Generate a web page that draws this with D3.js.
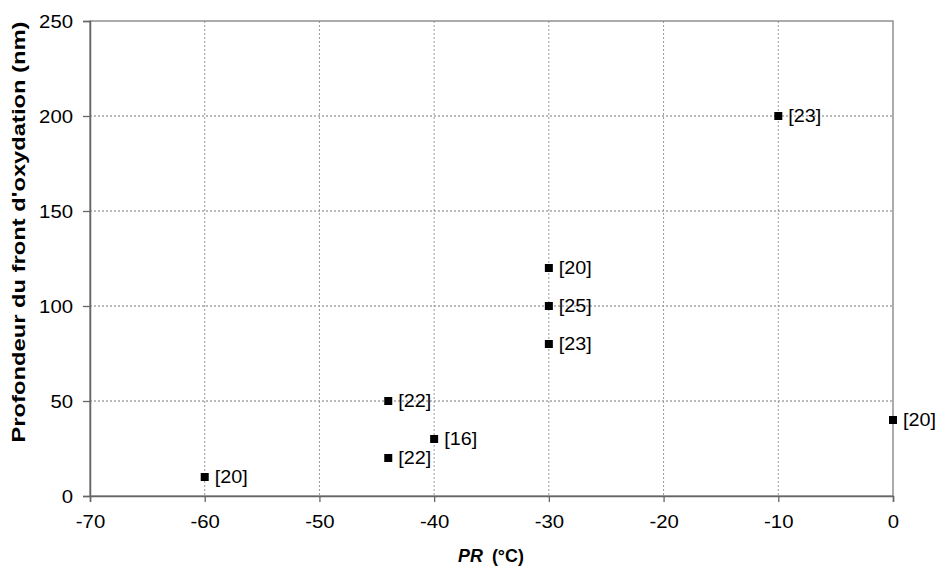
<!DOCTYPE html>
<html><head><meta charset="utf-8">
<script src="https://cdn.jsdelivr.net/npm/d3@7"></script>
<style>body{margin:0;background:#fff}text{font-family:"Liberation Sans",Arial,sans-serif}</style>
</head><body><svg id="c" width="941" height="571"></svg>
<script>
const xVals=[-60,-44,-44,-40,-30,-30,-30,-10,0];
const yVals=[10,50,20,30,120,100,80,200,40];
const labels=["[20]","[22]","[22]","[16]","[20]","[25]","[23]","[23]","[20]"];
const xTicks=[-70,-60,-50,-40,-30,-20,-10,0];
const yTicks=[0,50,100,150,200,250];

const svg=d3.select("#c");
const L=90,R=893,T=21,B=496;
const x=d3.scaleLinear().domain([-70,0]).range([L,R]);
const y=d3.scaleLinear().domain([0,250]).range([B,T]);
function stretch(f){return sel=>sel.each(function(){const n=this.getComputedTextLength();
  d3.select(this).attr("textLength",n*f).attr("lengthAdjust","spacingAndGlyphs");});}

// gridlines
svg.append("g").selectAll("line").data(yTicks.slice(1,-1)).join("line")
 .attr("x1",L).attr("x2",R).attr("y1",d=>y(d)).attr("y2",d=>y(d))
 .attr("stroke","#777").attr("stroke-width",1).attr("stroke-dasharray","2,2");
svg.append("g").selectAll("line").data(xTicks.slice(1,-1)).join("line")
 .attr("y1",T).attr("y2",B).attr("x1",d=>x(d)).attr("x2",d=>x(d))
 .attr("stroke","#999").attr("stroke-width",1).attr("stroke-dasharray","2,2");
// border
svg.append("rect").attr("x",L).attr("y",T).attr("width",R-L).attr("height",B-T)
 .attr("fill","none").attr("stroke","#808080").attr("stroke-width",1.3);

// axes
const ya=svg.append("g").attr("transform",`translate(${L},0)`)
 .call(d3.axisLeft(y).tickValues(yTicks).tickSize(7).tickPadding(10));
const xa=svg.append("g").attr("transform",`translate(0,${B})`)
 .call(d3.axisBottom(x).tickValues(xTicks).tickSize(6).tickPadding(13).tickFormat(d=>d<0?"-"+Math.abs(d):d));
[ya,xa].forEach(g=>{g.select(".domain").attr("stroke","#666").attr("stroke-width",1.5);
 g.selectAll(".tick line").attr("stroke","#666").attr("stroke-width",1.3);
 g.selectAll("text").attr("font-size",19).attr("fill","#000").attr("font-family","Liberation Sans, Arial, sans-serif").call(stretch(1.07));});

// points
const pts=xVals.map((v,i)=>({x:v,y:yVals[i],l:labels[i]}));
svg.append("g").selectAll("rect").data(pts).join("rect")
 .attr("x",d=>x(d.x)-4).attr("y",d=>y(d.y)-4).attr("width",8).attr("height",8).attr("fill","#000");
svg.append("g").selectAll("text").data(pts).join("text")
 .attr("x",d=>x(d.x)+10).attr("y",d=>y(d.y)).attr("dy","0.36em")
 .attr("font-size",18).text(d=>d.l).call(stretch(1.1));

// titles
svg.append("text").attr("transform",`translate(25,232) rotate(-90)`)
 .attr("text-anchor","middle").attr("font-size",18).attr("font-weight","bold")
 .attr("textLength",421).attr("lengthAdjust","spacingAndGlyphs")
 .text("Profondeur du front d'oxydation (nm)");
const xt=svg.append("text").attr("x",491).attr("y",562).attr("text-anchor","middle")
 .attr("font-size",18).attr("font-weight","bold");
xt.append("tspan").attr("font-style","italic").text("PR");
xt.append("tspan").attr("dx",9).text("(°C)");
xt.call(stretch(1.15));
</script></body></html>
